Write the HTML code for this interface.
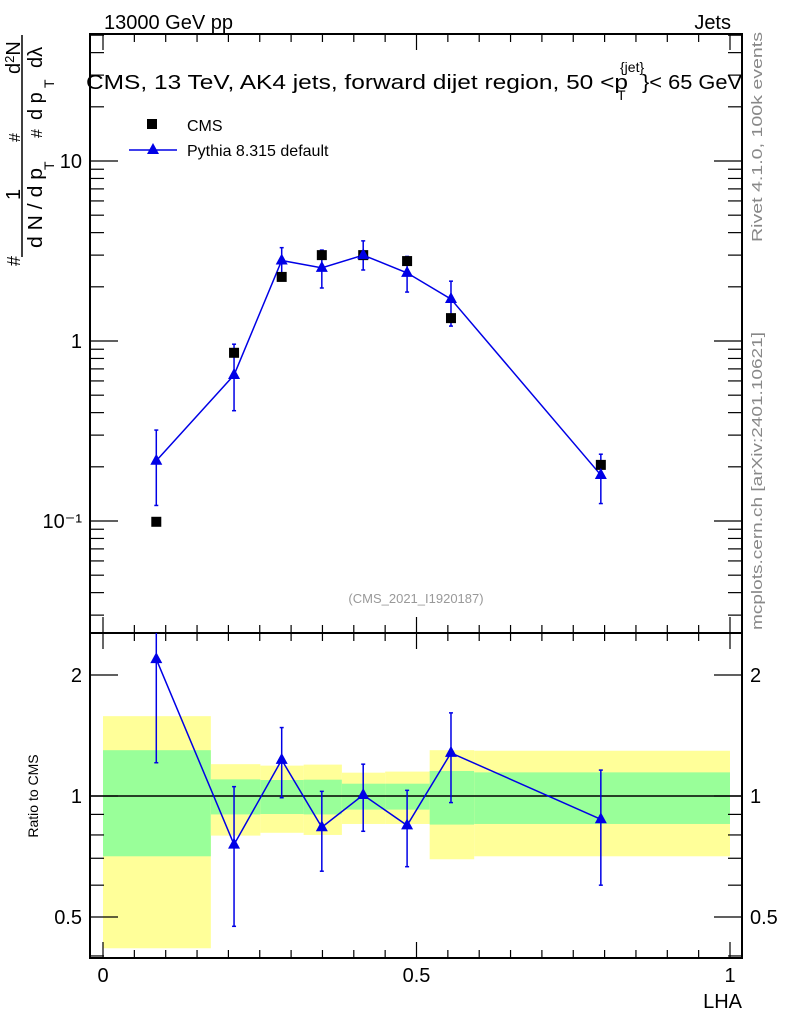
<!DOCTYPE html>
<html><head><meta charset="utf-8"><style>
body{margin:0;background:#fff;}
svg{display:block;font-family:"Liberation Sans",sans-serif;}
</style></head><body>
<svg id="chart" width="786" height="1024" viewBox="0 0 786 1024" xmlns="http://www.w3.org/2000/svg">
<g id="ratio-bands"></g>
<g id="grid"></g>
<g id="marks"></g>
<text x="104" y="29" font-size="20">13000 GeV pp</text>
<text x="731" y="29" font-size="20" text-anchor="end">Jets</text>
<g font-size="20">
<text x="86" y="89" textLength="542" lengthAdjust="spacingAndGlyphs">CMS, 13 TeV, AK4 jets, forward dijet region, 50 &lt;p</text>
<text x="620" y="72" font-size="14">{jet}</text>
<text x="617" y="100" font-size="14">T</text>
<text x="642" y="89" textLength="100" lengthAdjust="spacingAndGlyphs">}&lt; 65 GeV</text>
</g>
<g>
<rect x="147" y="119" width="10" height="10" fill="#000"/>
<text x="187" y="131" font-size="16">CMS</text>
<line x1="129" y1="150" x2="177" y2="150" stroke="#0000e6" stroke-width="1.5"/>
<path d="M153,143 L159,154 L147,154 Z" fill="#0000e6"/>
<text x="187" y="156" font-size="16">Pythia 8.315 default</text>
</g>
<text x="416" y="603" font-size="13" fill="#999" text-anchor="middle">(CMS_2021_I1920187)</text>
<text transform="translate(762,242) rotate(-90)" font-size="15" fill="#888" textLength="210" lengthAdjust="spacingAndGlyphs">Rivet 4.1.0,  100k events</text>
<text transform="translate(762,630) rotate(-90)" font-size="15" fill="#888" textLength="298" lengthAdjust="spacingAndGlyphs">mcplots.cern.ch [arXiv:2401.10621]</text>
<text x="742" y="1008" font-size="20" text-anchor="end">LHA</text>
<text transform="translate(38,796) rotate(-90)" font-size="14" text-anchor="middle">Ratio to CMS</text>
<g font-size="20">
<line x1="22" y1="35" x2="22" y2="257" stroke="#000" stroke-width="1.5"/>
<text transform="translate(20,266) rotate(-90)" font-size="18">#</text>
<text transform="translate(20,200) rotate(-90)">1</text>
<text transform="translate(20,142) rotate(-90)" font-size="16">#</text>
<text transform="translate(20,74) rotate(-90)">d<tspan font-size="13" dy="-6">2</tspan><tspan dy="6">N</tspan></text>
<text transform="translate(42,248) rotate(-90)" textLength="80" lengthAdjust="spacingAndGlyphs">d N / d p</text>
<text transform="translate(54,170) rotate(-90)" font-size="14">T</text>
<text transform="translate(42,138) rotate(-90)" font-size="16">#</text>
<text transform="translate(42,120) rotate(-90)">d p</text>
<text transform="translate(54,88) rotate(-90)" font-size="14">T</text>
<text transform="translate(42,68) rotate(-90)">dλ</text>
</g>
</svg>
<script>
const xCenters=[0.085,0.209,0.285,0.349,0.415,0.485,0.555,0.794];
const cmsVals=[0.099,0.86,2.27,3.0,3.0,2.78,1.34,0.205];
const pyVals=[0.216,0.647,2.8,2.55,3.0,2.39,1.71,0.18];
const pyErrUp=[0.32,0.96,3.3,3.2,3.6,2.95,2.15,0.235];
const pyErrDn=[0.122,0.41,2.3,1.97,2.48,1.87,1.21,0.125];
const binEdges=[0,0.172,0.251,0.32,0.381,0.45,0.521,0.592,1.0];
const yelTop=[1.58,1.20,1.19,1.197,1.143,1.15,1.30,1.296];
const grnTop=[1.30,1.10,1.096,1.098,1.073,1.073,1.154,1.145];
const grnBot=[0.708,0.90,0.902,0.90,0.925,0.925,0.849,0.852];
const yelBot=[0.418,0.797,0.81,0.80,0.852,0.852,0.696,0.708];
const ratioVals=[2.19,0.757,1.23,0.836,1.006,0.845,1.28,0.875];
const ratioErrUp=[2.6,1.055,1.48,1.027,1.20,1.033,1.61,1.16];
const ratioErrDn=[1.21,0.474,0.99,0.65,0.817,0.667,0.963,0.60];
const mainTicks=["10⁻¹","1","10"];
const ratioTicks=[0.5,1,2];
const xTicks=[0,0.5,1];

const NS="http://www.w3.org/2000/svg";
const L=90,R=742,T=34,MB=633,RB=958;
const X=v=>103+v*627;
const Y=v=>161-(Math.log10(v)-1)*180;
const YR=v=>796-Math.log2(v)*121;
function mk(parent,tag,attrs){const e=document.createElementNS(NS,tag);for(const k in attrs)e.setAttribute(k,attrs[k]);document.getElementById(parent).appendChild(e);return e;}

for(let i=0;i<binEdges.length-1;i++){
 const x1=X(binEdges[i]),x2=X(binEdges[i+1]);
 const y=mk('ratio-bands','rect',{x:x1,y:YR(yelTop[i]),width:x2-x1,height:YR(yelBot[i])-YR(yelTop[i]),fill:'#ffff99'});
 
 
 const g=mk('ratio-bands','rect',{x:x1,y:YR(grnTop[i]),width:x2-x1,height:YR(grnBot[i])-YR(grnTop[i]),fill:'#99ff99'});
 
 
}
const fm=mk('grid','rect',{x:L,y:T,width:R-L,height:MB-T,fill:'none',stroke:'#000','stroke-width':2});


const fr=mk('grid','rect',{x:L,y:MB,width:R-L,height:RB-MB,fill:'none',stroke:'#000','stroke-width':2});


mk('grid','line',{x1:L,x2:R,y1:YR(1),y2:YR(1),stroke:'#000','stroke-width':1.5});
for(let k=0;k<=20;k++){const v=k*0.05,x=X(v),len=(k%10==0)?16:8;
 for(const [top,bot] of [[T,MB],[MB,RB]]){
  mk('grid','line',{x1:x,x2:x,y1:bot,y2:bot-len,stroke:'#000','stroke-width':1.2});
  mk('grid','line',{x1:x,x2:x,y1:top,y2:top+len,stroke:'#000','stroke-width':1.2});
 }}
xTicks.forEach(v=>{const t=mk('grid','text',{x:X(v),y:982,'font-size':20,'text-anchor':'middle'});t.textContent=String(v);
 
 });
for(let d=-2;d<=1;d++)for(let m=1;m<=9;m++){const v=m*Math.pow(10,d),y=Y(v);if(y<T||y>MB)continue;const len=m==1?28:14;
 mk('grid','line',{x1:L,x2:L+len,y1:y,y2:y,stroke:'#000','stroke-width':1.2});
 mk('grid','line',{x1:R,x2:R-len,y1:y,y2:y,stroke:'#000','stroke-width':1.2});}
[0.1,1,10].forEach((v,i)=>{const t=mk('grid','text',{x:82,y:Y(v)+7,'font-size':20,'text-anchor':'end'});t.textContent=mainTicks[i];
 
 });
for(let d=-1;d<=0;d++)for(let m=1;m<=9;m++){const v=m*Math.pow(10,d),y=YR(v);if(y<=MB||y>=RB)continue;const len=(v==0.5||v==1||v==2)?28:14;
 mk('grid','line',{x1:L,x2:L+len,y1:y,y2:y,stroke:'#000','stroke-width':1.2});
 mk('grid','line',{x1:R,x2:R-len,y1:y,y2:y,stroke:'#000','stroke-width':1.2});}
ratioTicks.forEach(v=>{for(const [x,a] of [[82,'end'],[750,'start']]){const t=mk('grid','text',{x:x,y:YR(v)+7,'font-size':20,'text-anchor':a});t.textContent=String(v);
 
 }});
const blue='#0000e6';
const tri=(x,y)=>`M${x},${y-7} L${x+6},${y+4} L${x-6},${y+4} Z`;
const pl=mk('marks','polyline',{points:xCenters.map((x,i)=>X(x)+','+Y(pyVals[i])).join(' '),fill:'none',stroke:blue,'stroke-width':1.5});


const rl=mk('marks','polyline',{points:xCenters.map((x,i)=>X(x)+','+YR(ratioVals[i])).join(' '),fill:'none',stroke:blue,'stroke-width':1.5});


xCenters.forEach((xv,i)=>{const x=X(xv);
 const e1=Y(pyErrUp[i]),e2=Y(pyErrDn[i]);
 mk('marks','line',{x1:x,x2:x,y1:e1,y2:e2,stroke:blue,'stroke-width':1.5});
 mk('marks','line',{x1:x-2,x2:x+2,y1:e1,y2:e1,stroke:blue,'stroke-width':1.5});
 mk('marks','line',{x1:x-2,x2:x+2,y1:e2,y2:e2,stroke:blue,'stroke-width':1.5});
 const r1=Math.max(YR(ratioErrUp[i]),MB),r2=YR(ratioErrDn[i]);
 mk('marks','line',{x1:x,x2:x,y1:r1,y2:r2,stroke:blue,'stroke-width':1.5});
 mk('marks','line',{x1:x-2,x2:x+2,y1:r2,y2:r2,stroke:blue,'stroke-width':1.5});
 if(r1>MB)mk('marks','line',{x1:x-2,x2:x+2,y1:r1,y2:r1,stroke:blue,'stroke-width':1.5});
 const c=mk('marks','rect',{x:x-5,y:Y(cmsVals[i])-5,width:10,height:10,fill:'#000'});
 
 
 const p=mk('marks','path',{d:tri(x,Y(pyVals[i])),fill:blue});
 
 
 const rp=mk('marks','path',{d:tri(x,YR(ratioVals[i])),fill:blue});
 
 
});
</script>
</body></html>
